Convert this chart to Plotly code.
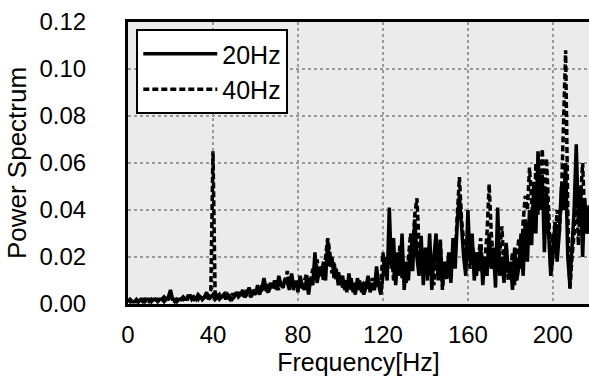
import plotly.graph_objects as go

freq = list(range(0, 218))

p20 = [
    0.001, 0.002, 0.001, 0.001, 0.002, 0.001, 0.002, 0.002, 0.001, 0.002,
    0.002, 0.001, 0.002, 0.002, 0.001, 0.002, 0.002, 0.003, 0.002, 0.003,
    0.006, 0.002, 0.002, 0.001, 0.002, 0.002, 0.003, 0.002, 0.002, 0.004,
    0.002, 0.003, 0.002, 0.004, 0.003, 0.002, 0.003, 0.005, 0.002, 0.003,
    0.004, 0.002, 0.003, 0.002, 0.003, 0.004, 0.002, 0.004, 0.003, 0.002,
    0.003, 0.005, 0.003, 0.004, 0.006, 0.003, 0.004, 0.007, 0.004, 0.005,
    0.004, 0.008, 0.005, 0.006, 0.011, 0.006, 0.005, 0.009, 0.007, 0.010,
    0.006, 0.012, 0.008, 0.007, 0.011, 0.009, 0.006, 0.013, 0.007, 0.010,
    0.005, 0.012, 0.008, 0.006, 0.010, 0.004, 0.011, 0.008, 0.022, 0.009,
    0.014, 0.012, 0.018, 0.010, 0.027, 0.016, 0.020, 0.011, 0.015, 0.008,
    0.012, 0.007, 0.010, 0.005, 0.013, 0.006, 0.009, 0.004, 0.011, 0.006,
    0.008, 0.004, 0.007, 0.012, 0.005, 0.009, 0.006, 0.016, 0.008, 0.004,
    0.012, 0.020, 0.010, 0.041, 0.015, 0.028, 0.008, 0.022, 0.012, 0.030,
    0.006, 0.018, 0.010, 0.025, 0.014, 0.036, 0.020, 0.012, 0.029, 0.008,
    0.024, 0.012, 0.030, 0.006, 0.020, 0.030, 0.010, 0.026, 0.008, 0.018,
    0.012, 0.022, 0.009, 0.028, 0.015, 0.035, 0.046, 0.030, 0.020, 0.012,
    0.040, 0.018, 0.030, 0.010, 0.022, 0.014, 0.025, 0.008, 0.020, 0.012,
    0.030, 0.015, 0.024, 0.007, 0.041, 0.012, 0.020, 0.009, 0.026, 0.013,
    0.018, 0.006, 0.024, 0.010, 0.016, 0.030, 0.012, 0.036, 0.018, 0.040,
    0.025, 0.052, 0.030, 0.065, 0.040, 0.055, 0.022, 0.048, 0.030, 0.012,
    0.020, 0.035, 0.018, 0.030, 0.050, 0.040, 0.060, 0.020, 0.008, 0.025,
    0.040, 0.068, 0.035, 0.050, 0.020, 0.045, 0.030, 0.042,
]

p40 = [
    0.002, 0.001, 0.002, 0.002, 0.001, 0.001, 0.002, 0.001, 0.002, 0.001,
    0.001, 0.002, 0.001, 0.002, 0.002, 0.001, 0.002, 0.001, 0.002, 0.002,
    0.003, 0.002, 0.001, 0.002, 0.001, 0.002, 0.002, 0.001, 0.003, 0.002,
    0.003, 0.002, 0.003, 0.002, 0.004, 0.002, 0.003, 0.002, 0.004, 0.006,
    0.065, 0.005, 0.003, 0.004, 0.002, 0.003, 0.005, 0.003, 0.002, 0.004,
    0.004, 0.003, 0.005, 0.003, 0.004, 0.003, 0.006, 0.004, 0.003, 0.006,
    0.005, 0.006, 0.004, 0.008, 0.006, 0.009, 0.005, 0.007, 0.006, 0.009,
    0.008, 0.006, 0.010, 0.007, 0.009, 0.014, 0.008, 0.010, 0.006, 0.009,
    0.007, 0.010, 0.006, 0.009, 0.013, 0.007, 0.010, 0.015, 0.010, 0.019,
    0.012, 0.016, 0.010, 0.020, 0.028, 0.022, 0.013, 0.018, 0.010, 0.014,
    0.009, 0.012, 0.006, 0.010, 0.008, 0.011, 0.005, 0.009, 0.007, 0.010,
    0.005, 0.009, 0.010, 0.006, 0.008, 0.011, 0.006, 0.009, 0.010, 0.008,
    0.022, 0.012, 0.018, 0.016, 0.024, 0.010, 0.020, 0.014, 0.025, 0.011,
    0.016, 0.009, 0.021, 0.030, 0.022, 0.038, 0.045, 0.025, 0.018, 0.014,
    0.020, 0.010, 0.024, 0.015, 0.008, 0.022, 0.012, 0.028, 0.006, 0.016,
    0.010, 0.018, 0.013, 0.024, 0.020, 0.038, 0.054, 0.036, 0.025, 0.018,
    0.030, 0.015, 0.026, 0.020, 0.012, 0.020, 0.028, 0.014, 0.018, 0.030,
    0.051, 0.030, 0.018, 0.012, 0.020, 0.022, 0.033, 0.015, 0.025, 0.010,
    0.014, 0.022, 0.008, 0.020, 0.028, 0.015, 0.035, 0.046, 0.040, 0.058,
    0.045, 0.030, 0.060, 0.038, 0.050, 0.066, 0.045, 0.062, 0.040, 0.015,
    0.030, 0.025, 0.040, 0.030, 0.045, 0.075, 0.108, 0.040, 0.006, 0.020,
    0.030, 0.052, 0.025, 0.045, 0.060, 0.035, 0.040, 0.030,
]

x_ticks = [0, 40, 80, 120, 160, 200]
y_ticks = [0.00, 0.02, 0.04, 0.06, 0.08, 0.10, 0.12]

font_family = "Liberation Sans, Arial, sans-serif"

fig = go.Figure()
fig.add_trace(go.Scatter(x=freq, y=p20, mode="lines", name="20Hz",
                         line=dict(color="black", width=3.5, dash="solid")))
fig.add_trace(go.Scatter(x=freq, y=p40, mode="lines", name="40Hz",
                         line=dict(color="black", width=3.5, dash="6px,3px")))

fig.update_layout(
    width=589, height=376,
    margin=dict(l=128, r=0, t=22, b=72),
    paper_bgcolor="white",
    plot_bgcolor="#ebebeb",
    font=dict(family=font_family, size=24, color="black"),
    showlegend=True,
    legend=dict(
        x=0.018, y=0.975, xanchor="left", yanchor="top",
        bgcolor="white", bordercolor="black", borderwidth=2,
        font=dict(size=25, color="black"),
        itemwidth=74,
        tracegroupgap=4,
    ),
)
fig.update_xaxes(
    range=[0, 217], tickvals=x_ticks, ticktext=[str(v) for v in x_ticks],
    showgrid=True, gridcolor="#999999", griddash="dot", gridwidth=2,
    showline=True, linecolor="black", linewidth=3, mirror=True,
    ticks="", zeroline=False,
    tickfont=dict(size=24),
    title=dict(text="Frequency[Hz]", standoff=2, font=dict(size=25)),
    ticklabelstandoff=7,
)
fig.update_yaxes(
    range=[0, 0.12], tickvals=y_ticks, tickformat=".2f",
    showgrid=True, gridcolor="#999999", griddash="dot", gridwidth=2,
    showline=True, linecolor="black", linewidth=3, mirror=False,
    ticks="", zeroline=False,
    tickfont=dict(size=24),
    title=dict(text="Power Spectrum", standoff=6, font=dict(size=26)),
    ticklabelstandoff=34,
)

fig.write_html("out.html")
